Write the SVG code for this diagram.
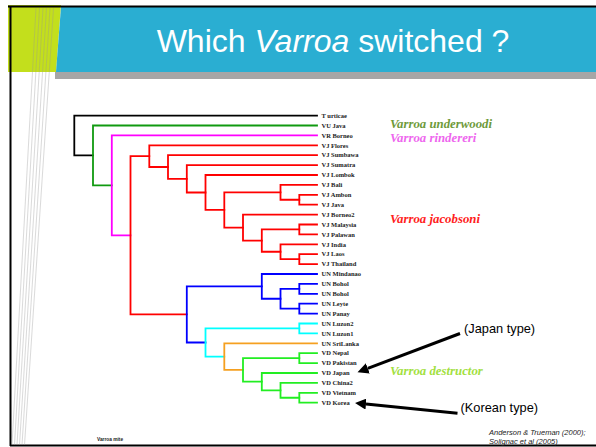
<svg xmlns="http://www.w3.org/2000/svg" width="596" height="447" viewBox="0 0 596 447">
<style>
.br{fill:none;stroke-width:1.8;stroke-linejoin:miter;stroke-linecap:square}
.k{stroke:#000}.dg{stroke:#109a10}.pk{stroke:#ff00ff}.rd{stroke:#ff0000}.bl{stroke:#0000ff}.cy{stroke:#00ffff}.or{stroke:#f5a020}.lg{stroke:#22ee22}
.lf{font-family:"Liberation Serif","Times New Roman",serif;font-weight:bold;font-size:6.5px;fill:#222}
.sp{font-family:"Liberation Serif","Times New Roman",serif;font-weight:bold;font-style:italic;font-size:12.8px}
.note{font-family:"Liberation Sans",Arial,sans-serif;font-size:12.8px;fill:#000}
.ref{font-family:"Liberation Sans",Arial,sans-serif;font-style:italic;font-size:7.5px;fill:#222}
.mg{stroke:#999;stroke-width:0.6;opacity:0.6}
.arr{stroke:#000;stroke-width:3;fill:none}
</style>
<defs>
<marker id="ah" markerUnits="userSpaceOnUse" markerWidth="12" markerHeight="11" refX="0" refY="5.5" orient="auto" viewBox="0 0 12 11">
<path d="M0,0 L11,5.5 L0,11 Z" fill="#000"/>
</marker>
</defs>
<rect width="596" height="447" fill="#fff"/>
<!-- header -->
<polygon points="8,5 61,5 56,72 8,72" fill="#c3df1c"/>
<polygon points="61,7 596,7 596,72 56,72" fill="#2aaed2"/>
<rect x="55" y="72" width="541" height="7" fill="#a6a6a6"/>
<line x1="8" y1="6.5" x2="596" y2="6.5" stroke="#000" stroke-width="2"/>
<line x1="10.5" y1="6" x2="10.5" y2="446" stroke="#000" stroke-width="2"/>
<line x1="10" y1="445.5" x2="596" y2="445.5" stroke="#000" stroke-width="2"/>
<g id="margin-lines">
<line class="mg" x1="36" y1="8" x2="12" y2="445"/>
<line class="mg" x1="39.5" y1="8" x2="14.5" y2="445"/>
<line class="mg" x1="43" y1="8" x2="17" y2="445"/>
<line class="mg" x1="46.5" y1="8" x2="19.5" y2="445"/>
<line class="mg" x1="50" y1="8" x2="22" y2="445"/>
<line class="mg" x1="53.5" y1="8" x2="24.5" y2="445"/>
</g>
<text id="title" x="333" y="52" text-anchor="middle" font-family="'Liberation Sans',Arial,sans-serif" font-size="32" fill="#fff">Which <tspan font-style="italic">Varroa</tspan> switched ?</text>
<!-- connectors -->
<g id="connectors">
<path class="br k" d="M317 115.6 H74.3 V155.4 H93"/>
<path class="br dg" d="M317 125.5 H93 V185.35 H111.8"/>
<path class="br pk" d="M317 135.4 H111.8 V235.3 H130.5"/>
<path class="br rd" d="M149.3 156.15 H130.5 V314.44 H186.8"/>
<path class="br rd" d="M317 145.3 H149.3 V167 H168"/>
<path class="br rd" d="M317 155.2 H168 V178.79 H186.8"/>
<path class="br rd" d="M317 165.1 H186.8 V192.48 H205.5"/>
<path class="br rd" d="M317 175 H205.5 V209.96 H224.3"/>
<path class="br rd" d="M280.5 192.325 H224.3 V227.6 H243"/>
<path class="br rd" d="M317 184.9 H280.5 V199.75 H299.3"/>
<path class="br rd" d="M317 194.8 H299.3 V204.7 H317"/>
<path class="br rd" d="M317 214.6 H243 V240.59 H261.8"/>
<path class="br rd" d="M299.3 229.45 H261.8 V251.725 H280.5"/>
<path class="br rd" d="M317 224.5 H299.3 V234.4 H317"/>
<path class="br rd" d="M317 244.3 H280.5 V259.15 H299.3"/>
<path class="br rd" d="M317 254.2 H299.3 V264.1 H317"/>
<path class="br bl" d="M261.8 286.375 H186.8 V342.5 H205.5"/>
<path class="br bl" d="M317 274 H261.8 V298.75 H280.5"/>
<path class="br bl" d="M299.3 288.85 H280.5 V308.65 H299.3"/>
<path class="br bl" d="M317 283.9 H299.3 V293.8 H317"/>
<path class="br bl" d="M317 303.7 H299.3 V313.6 H317"/>
<path class="br cy" d="M299.3 328.45 H205.5 V356.6 H224.3"/>
<path class="br cy" d="M317 323.5 H299.3 V333.4 H317"/>
<path class="br or" d="M317 343.3 H224.3 V369.9 H243"/>
<path class="br lg" d="M299.3 358.15 H243 V381.66 H261.8"/>
<path class="br lg" d="M317 353.2 H299.3 V363.1 H317"/>
<path class="br lg" d="M317 373 H261.8 V390.325 H280.5"/>
<path class="br lg" d="M317 382.9 H280.5 V397.75 H299.3"/>
<path class="br lg" d="M317 392.8 H299.3 V402.7 H317"/>
<line class="arr" x1="460" y1="333.5" x2="367.8" y2="368.4" marker-end="url(#ah)"/>
<line class="arr" x1="457.5" y1="413.3" x2="366" y2="404.1" marker-end="url(#ah)"/>
</g>
<!-- leaves -->
<g id="n-turticae"><text class="lf" x="321.5" y="117.8">T urticae</text></g>
<g id="n-vu-java"><text class="lf" x="321.5" y="127.7">VU Java</text></g>
<g id="n-vr-borneo"><text class="lf" x="321.5" y="137.6">VR Borneo</text></g>
<g id="n-vj-flores"><text class="lf" x="321.5" y="147.5">VJ Flores</text></g>
<g id="n-vj-sumbawa"><text class="lf" x="321.5" y="157.4">VJ Sumbawa</text></g>
<g id="n-vj-sumatra"><text class="lf" x="321.5" y="167.3">VJ Sumatra</text></g>
<g id="n-vj-lombok"><text class="lf" x="321.5" y="177.2">VJ Lombok</text></g>
<g id="n-vj-bali"><text class="lf" x="321.5" y="187.1">VJ Bali</text></g>
<g id="n-vj-ambon"><text class="lf" x="321.5" y="197">VJ Ambon</text></g>
<g id="n-vj-java"><text class="lf" x="321.5" y="206.9">VJ Java</text></g>
<g id="n-vj-borneo2"><text class="lf" x="321.5" y="216.8">VJ Borneo2</text></g>
<g id="n-vj-malaysia"><text class="lf" x="321.5" y="226.7">VJ Malaysia</text></g>
<g id="n-vj-palawan"><text class="lf" x="321.5" y="236.6">VJ Palawan</text></g>
<g id="n-vj-india"><text class="lf" x="321.5" y="246.5">VJ India</text></g>
<g id="n-vj-laos"><text class="lf" x="321.5" y="256.4">VJ Laos</text></g>
<g id="n-vj-thailand"><text class="lf" x="321.5" y="266.3">VJ Thailand</text></g>
<g id="n-un-mindanao"><text class="lf" x="321.5" y="276.2">UN Mindanao</text></g>
<g id="n-un-bohol-1"><text class="lf" x="321.5" y="286.1">UN Bohol</text></g>
<g id="n-un-bohol-2"><text class="lf" x="321.5" y="296">UN Bohol</text></g>
<g id="n-un-leyte"><text class="lf" x="321.5" y="305.9">UN Leyte</text></g>
<g id="n-un-panay"><text class="lf" x="321.5" y="315.8">UN Panay</text></g>
<g id="n-un-luzon2"><text class="lf" x="321.5" y="325.7">UN Luzon2</text></g>
<g id="n-un-luzon1"><text class="lf" x="321.5" y="335.6">UN Luzon1</text></g>
<g id="n-un-srilanka"><text class="lf" x="321.5" y="345.5">UN SriLanka</text></g>
<g id="n-vd-nepal"><text class="lf" x="321.5" y="355.4">VD Nepal</text></g>
<g id="n-vd-pakistan"><text class="lf" x="321.5" y="365.3">VD Pakistan</text></g>
<g id="n-vd-japan"><text class="lf" x="321.5" y="375.2">VD Japan</text></g>
<g id="n-vd-china2"><text class="lf" x="321.5" y="385.1">VD China2</text></g>
<g id="n-vd-vietnam"><text class="lf" x="321.5" y="395">VD Vietnam</text></g>
<g id="n-vd-korea"><text class="lf" x="321.5" y="404.9">VD Korea</text></g>
<!-- species labels -->
<g id="sp-underwoodi"><text class="sp" x="390" y="127.5" fill="#6e9a3a">Varroa underwoodi</text></g>
<g id="sp-rindereri"><text class="sp" x="390" y="141.5" fill="#ee66ee">Varroa rindereri</text></g>
<g id="sp-jacobsoni"><text class="sp" x="390" y="223" fill="#ff2020">Varroa jacobsoni</text></g>
<g id="sp-destructor"><text class="sp" x="390" y="374.5" fill="#a2e040">Varroa destructor</text></g>
<g id="note-japan"><text class="note" x="464" y="333">(Japan type)</text></g>
<g id="note-korea"><text class="note" x="460.5" y="412">(Korean type)</text></g>
<text class="ref" x="489" y="434.5">Anderson &amp; Trueman (2000);</text>
<text class="ref" x="489" y="443.5">Solignac et al (2005)</text>
<text x="97" y="440.5" font-family="'Liberation Sans',Arial,sans-serif" font-weight="bold" font-size="4.8" fill="#222">Varroa mite</text>
</svg>
